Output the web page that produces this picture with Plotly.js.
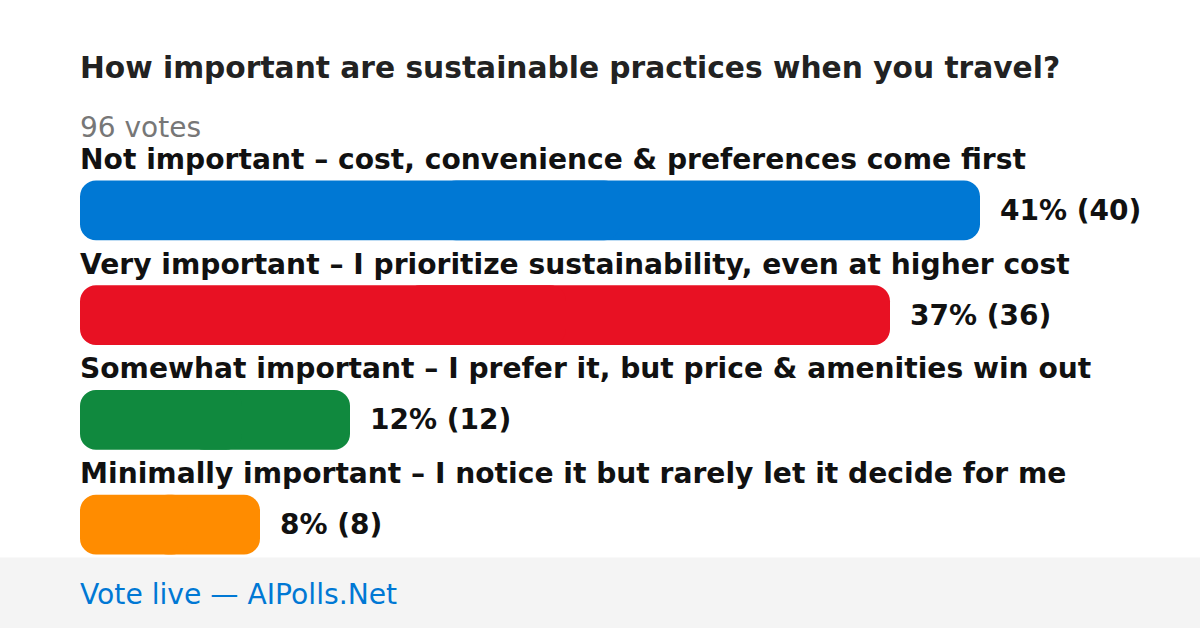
<!DOCTYPE html>
<html>
<head>
<meta charset="utf-8">
<script src="https://cdn.plot.ly/plotly-3.0.1.min.js"></script>
<style>
html,body{margin:0;padding:0;background:#fff;}
#chart{width:1200px;height:628px;}
</style>
</head>
<body>
<div id="chart"></div>
<script>
// ---- data ----
const chartTitle = "How important are sustainable practices when you travel?";
const totalVotes = 96;
const categories = [
  "Not important – cost, convenience & preferences come first",
  "Very important – I prioritize sustainability, even at higher cost",
  "Somewhat important – I prefer it, but price & amenities win out",
  "Minimally important – I notice it but rarely let it decide for me"
];
const votes = [40, 36, 12, 8];
const percents = [41, 37, 12, 8];
const barColors = ["#0078D4", "#E81123", "#10893E", "#FF8C00"];
const footerText = "Vote live — AIPolls.Net";

// ---- layout geometry (pixels) ----
const W = 1200, H = 628;
const mL = 80, mR = 220, mT = 157.5, mB = 50.5;
const plotW = W - mL - mR, plotH = H - mT - mB;
const px2paperX = p => (p - mL) / plotW;
const px2paperY = p => (H - mB - p) / plotH;

const font = "DejaVu Sans, sans-serif";
const idx = categories.map((_, i) => i);
const barWidth = 60 / 105;
const radius = 16;

// Each bar is drawn as two overlapping halves so that both ends get rounded corners.
const rightHalf = {
  type: "bar", orientation: "h",
  y: idx,
  base: votes.map(v => v * 0.4),
  x: votes.map(v => v * 0.6),
  width: barWidth,
  marker: { color: barColors, cornerradius: radius, line: { width: 0 } },
  hoverinfo: "skip", showlegend: false
};
const leftHalf = {
  type: "bar", orientation: "h",
  y: idx,
  base: votes.map(v => v * 0.6),
  x: votes.map(v => -v * 0.6),
  width: barWidth,
  marker: { color: barColors, cornerradius: radius, line: { width: 0 } },
  hoverinfo: "skip", showlegend: false
};

const annotations = [];
categories.forEach((c, i) => {
  annotations.push({
    x: 0, y: i, xref: "x", yref: "y",
    xanchor: "left", yanchor: "middle",
    yshift: 51, xshift: -2,
    text: "<b>" + c + "</b>",
    showarrow: false,
    font: { family: font, size: 28.15, color: "#111111" }
  });
  annotations.push({
    x: votes[i], y: i, xref: "x", yref: "y",
    xanchor: "left", yanchor: "middle",
    xshift: 18,
    text: "<b>" + percents[i] + "% (" + votes[i] + ")</b>",
    showarrow: false,
    font: { family: font, size: 28, color: "#111111" }
  });
});
annotations.push({
  x: px2paperX(80), y: px2paperY(127), xref: "paper", yref: "paper",
  xanchor: "left", yanchor: "middle", xshift: -2,
  text: totalVotes + " votes", showarrow: false,
  font: { family: font, size: 28, color: "#777777" }
});
annotations.push({
  x: px2paperX(80), y: px2paperY(595), xref: "paper", yref: "paper",
  xanchor: "left", yanchor: "middle", xshift: -2,
  text: footerText, showarrow: false,
  font: { family: font, size: 28.2, color: "#0078D4" }
});

const layout = {
  width: W, height: H,
  margin: { l: mL, r: mR, t: mT, b: mB, pad: 0 },
  paper_bgcolor: "#ffffff",
  plot_bgcolor: "rgba(0,0,0,0)",
  barmode: "overlay",
  title: {
    text: "<b>" + chartTitle + "</b>",
    xref: "container", yref: "container",
    x: 80 / W, xanchor: "left",
    y: 1 - 68 / H, yanchor: "middle",
    font: { family: font, size: 29.7, color: "#222222" }
  },
  xaxis: { range: [0, 40], visible: false, fixedrange: true },
  yaxis: { range: [3.5, -0.5], visible: false, fixedrange: true },
  shapes: [{
    type: "rect", xref: "paper", yref: "paper",
    x0: px2paperX(0), x1: px2paperX(W),
    y0: px2paperY(558), y1: px2paperY(H + 2),
    fillcolor: "#F4F4F4", line: { width: 0 }, layer: "below"
  }],
  annotations: annotations
};

Plotly.newPlot("chart", [rightHalf, leftHalf], layout, { displayModeBar: false, staticPlot: true });
</script>
</body>
</html>
